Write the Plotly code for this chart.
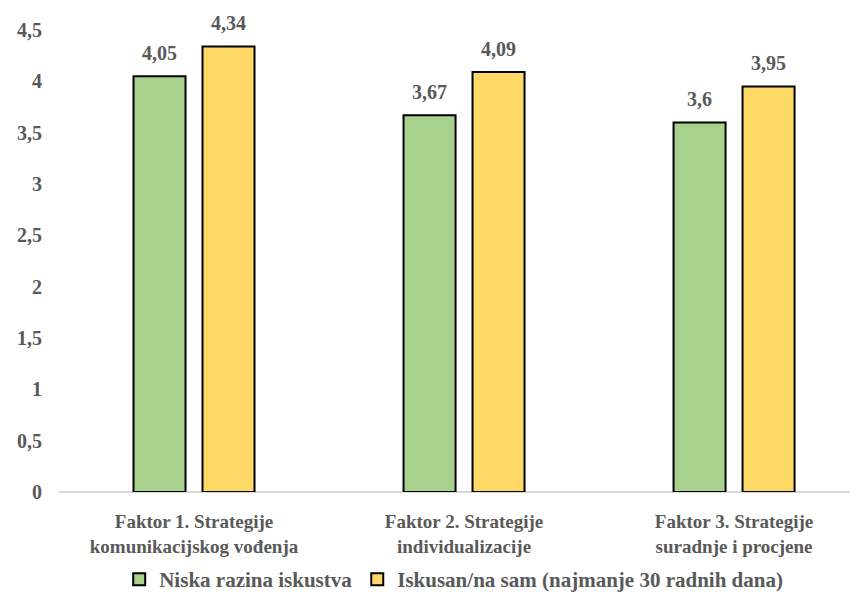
import plotly.graph_objects as go

categories = ["Faktor 1. Strategije<br>komunikacijskog vođenja",
              "Faktor 2. Strategije<br>individualizacije",
              "Faktor 3. Strategije<br>suradnje i procjene"]
series_names = ["Niska razina iskustva", "Iskusan/na sam (najmanje 30 radnih dana)"]
niska = [4.05, 3.67, 3.6]
iskusan = [4.34, 4.09, 3.95]
colors = ["#A9D18E", "#FFD966"]

font_family = "Liberation Serif, Times New Roman, serif"
gray = "#595959"

def fmt(v):
    return ("%g" % v).replace(".", ",")

fig = go.Figure()
offsets = [-34.5, 34.5]
for name, vals, col, off in zip(series_names, [niska, iskusan], colors, offsets):
    fig.add_trace(go.Bar(
        x=categories, y=vals, name="<b>" + name + "</b>",
        marker=dict(color=col, line=dict(color="#000000", width=2)),
    ))
    for c, v in zip(categories, vals):
        fig.add_annotation(x=c, y=v, xshift=off, yshift=10, yanchor="bottom",
                           showarrow=False, text="<b>" + fmt(v) + "</b>",
                           font=dict(family=font_family, size=20, color=gray))

fig.update_layout(
    width=850, height=592,
    margin=dict(l=51, r=0, t=21.5, b=108),
    plot_bgcolor="white", paper_bgcolor="white",
    separators=", ",
    barmode="group", bargap=0.489, bargroupgap=0.246,
    font=dict(family=font_family, size=19, color=gray),
    showlegend=True,
    legend=dict(orientation="h", x=0.494, xanchor="center", y=-0.19, yanchor="middle",
                font=dict(family=font_family, size=21, color=gray),
                traceorder="normal"),
    xaxis=dict(range=[-0.5, 2.459], showline=False, ticks="outside", ticklen=12,
               tickcolor="rgba(0,0,0,0)",
               tickfont=dict(family=font_family, size=19, color=gray),
               tickprefix="<b>", ticksuffix="</b>"),
    yaxis=dict(range=[0, 4.5], dtick=0.5, showgrid=False, zeroline=True,
               zerolinecolor="#D9D9D9", zerolinewidth=2,
               tickfont=dict(family=font_family, size=20, color=gray),
               ticks="outside", ticklen=12, tickcolor="rgba(0,0,0,0)",
               tickprefix="<b>", ticksuffix="</b>"),
)
fig.write_html("out.html")
